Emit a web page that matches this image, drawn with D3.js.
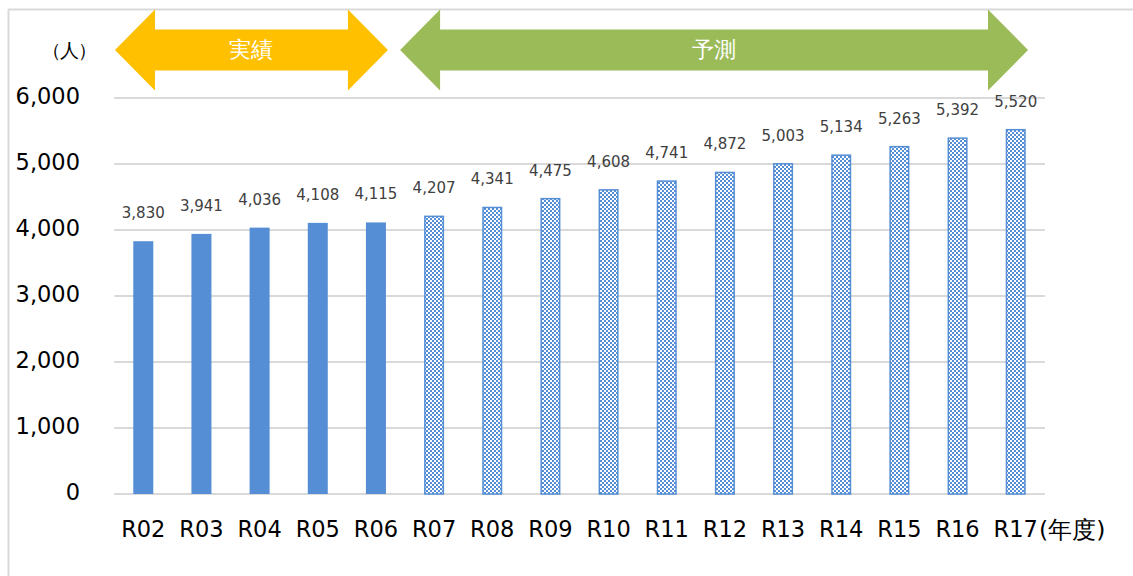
<!DOCTYPE html>
<html><head><meta charset="utf-8">
<script src="https://cdn.jsdelivr.net/npm/d3@7"></script>
<style>body{margin:0;background:#fff}svg{display:block}text{font-family:"DejaVu Sans",Verdana,sans-serif}</style>
</head><body>
<svg id="c" width="1133" height="576"></svg>
<script>
const categories = ["R02","R03","R04","R05","R06","R07","R08","R09","R10","R11","R12","R13","R14","R15","R16","R17"];
const values = [3830,3941,4036,4108,4115,4207,4341,4475,4608,4741,4872,5003,5134,5263,5392,5520];
const actualCount = 5;
const yTicks = [0,1000,2000,3000,4000,5000,6000];

const svg = d3.select("#c");
const W=1133,H=576;
const m={left:114.2,right:1044.8,top:98,bottom:494};

// frame
svg.append("line").attr("x1",8).attr("x2",W).attr("y1",9.5).attr("y2",9.5).attr("stroke","#d9d9d9").attr("stroke-width",2);
svg.append("line").attr("x1",8.5).attr("x2",8.5).attr("y1",9).attr("y2",H).attr("stroke","#d9d9d9").attr("stroke-width",2);

const defs=svg.append("defs");
const pat=defs.append("pattern").attr("id","chk").attr("patternUnits","userSpaceOnUse").attr("width",4).attr("height",4);
pat.append("rect").attr("width",4).attr("height",4).attr("fill","#ffffff");
pat.append("rect").attr("x",0).attr("y",0).attr("width",2).attr("height",2).attr("fill","#558ed5");
pat.append("rect").attr("x",2).attr("y",2).attr("width",2).attr("height",2).attr("fill","#558ed5");

const x=d3.scaleBand().domain(categories).range([m.left,m.right]).paddingInner(0.656).paddingOuter(0.328);
const y=d3.scaleLinear().domain([0,6000]).range([m.bottom,m.top]);

// gridlines
svg.append("g").selectAll("line").data(yTicks).join("line")
  .attr("x1",m.left).attr("x2",m.right).attr("y1",d=>y(d)).attr("y2",d=>y(d))
  .attr("stroke","#d9d9d9").attr("stroke-width",2);

// y labels
svg.append("g").selectAll("text").data(yTicks).join("text")
  .attr("x",80).attr("y",d=>y(d)+6).attr("text-anchor","end")
  .attr("font-size",22.5).attr("fill","#000").text(d=>d3.format(",")(d));

// bars
svg.append("g").selectAll("rect").data(values).join("rect")
  .attr("x",(d,i)=>x(categories[i])+(i<actualCount?0:0.75))
  .attr("width",(d,i)=>x.bandwidth()-(i<actualCount?0:1.5))
  .attr("y",d=>y(d)).attr("height",d=>y(0)-y(d))
  .attr("fill",(d,i)=>i<actualCount?"#558ed5":"url(#chk)")
  .attr("stroke",(d,i)=>i<actualCount?"none":"#558ed5").attr("stroke-width",1.5);

// data labels
svg.append("g").selectAll("text").data(values).join("text")
  .attr("x",(d,i)=>x(categories[i])+x.bandwidth()/2).attr("y",d=>y(d)-23)
  .attr("text-anchor","middle").attr("font-size",15).attr("fill","#404040")
  .text(d=>d3.format(",")(d));

// x labels
svg.append("g").selectAll("text").data(categories).join("text")
  .attr("x",d=>x(d)+x.bandwidth()/2).attr("y",537).attr("text-anchor","middle")
  .attr("font-size",22.5).attr("fill","#000").text(d=>d);
svg.append("text").attr("x",1039).attr("y",538).attr("font-size",23.5).attr("fill","#000")
  .attr("font-family","'Noto Sans CJK JP',sans-serif").text("(年度)");

// unit
svg.append("text").attr("x",42).attr("y",57).attr("font-size",19).attr("fill","#000")
  .attr("font-family","'Noto Sans CJK JP',sans-serif").attr("letter-spacing",-1).text("（人）");

// arrows
function dblArrow(x0,x1,color,label){
  const yc=50, hh=40.5, sh=20.5, hl=40;
  const pts=[[x0,yc],[x0+hl,yc-hh],[x0+hl,yc-sh],[x1-hl,yc-sh],[x1-hl,yc-hh],[x1,yc],[x1-hl,yc+hh],[x1-hl,yc+sh],[x0+hl,yc+sh],[x0+hl,yc+hh]];
  svg.append("polygon").attr("points",pts.map(p=>p.join(",")).join(" ")).attr("fill",color);
  svg.append("text").attr("x",(x0+x1)/2).attr("y",yc+7).attr("text-anchor","middle")
    .attr("font-size",22).attr("fill","#fff").attr("font-family","'Noto Sans CJK JP',sans-serif").text(label);
}
dblArrow(x(categories[0])-18.3,x(categories[actualCount-1])+x.bandwidth()+2,"#ffc000","実績");
dblArrow(x(categories[actualCount])-24,x(categories[categories.length-1])+x.bandwidth()+2.3,"#9bbb59","予測");
</script>
</body></html>
